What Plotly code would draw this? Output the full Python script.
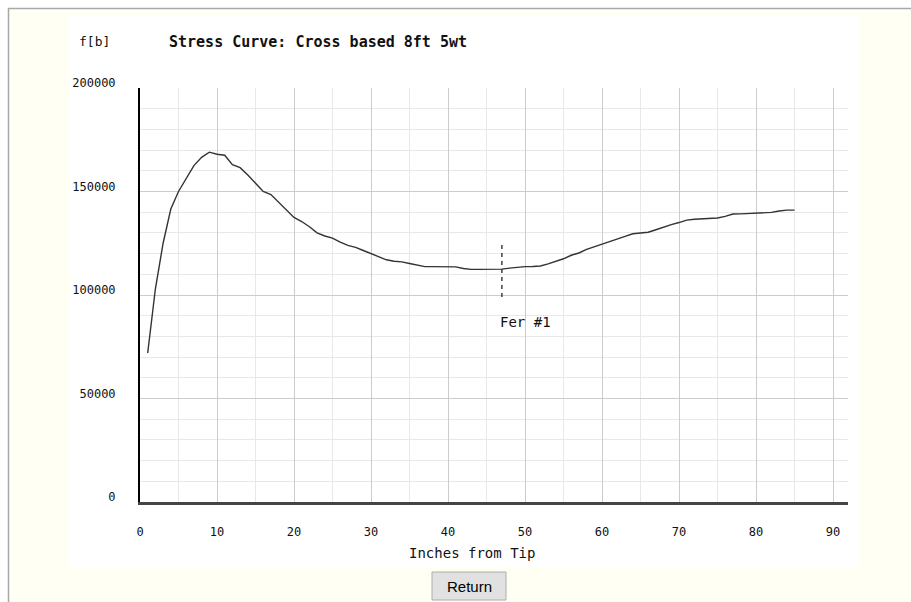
import plotly.graph_objects as go

# ---- data ----
inches = list(range(1, 86))
stress = [72000, 103000, 125000, 141500, 150000, 156000, 162500, 166500, 169000, 168000,
          167500, 163000, 161500, 158000, 154000, 150000, 148500, 145000, 141000, 137500,
          135500, 133000, 130000, 128500, 127500, 125500, 124000, 123000, 121500, 120000,
          118500, 117000, 116300, 116000, 115200, 114300, 113700, 113700, 113700, 113700,
          113600, 112800, 112400, 112400, 112400, 112400, 112500, 113000, 113500, 113700,
          113800, 114000, 115000, 116200, 117500, 119200, 120300, 122000, 123200, 124500,
          125700, 127000, 128300, 129600, 130100, 130300, 131500, 132800, 134000, 135000,
          136200, 136600, 136800, 137000, 137200, 138000, 139100, 139200, 139300, 139400,
          139500, 139900, 140600, 141000, 141000]
ferrule_x = [47, 47]
ferrule_y = [99000, 126000]
ferrule_label = "Fer #1"
ferrule_label_y = 87000
x_ticks = [0, 10, 20, 30, 40, 50, 60, 70, 80, 90]
y_ticks = [0, 50000, 100000, 150000, 200000]
title_text = "Stress Curve: Cross based 8ft 5wt"
y_unit = "f[b]"
x_title = "Inches from Tip"

W, H = 911, 602
L, R, T, B = 140, 63, 88, 100
PW = W - L - R
PH = H - T - B

def fx(px):
    return (px - L) / PW

def fy(py):
    return (H - B - py) / PH

MONO = "DejaVu Sans Mono"

fig = go.Figure()
fig.add_trace(go.Scatter(x=inches, y=stress, mode="lines",
                         line=dict(color="#333333", width=1.4),
                         hoverinfo="skip", showlegend=False))
fig.add_trace(go.Scatter(x=ferrule_x, y=ferrule_y, mode="lines",
                         line=dict(color="#222222", width=1.3, dash="4px,4px"),
                         hoverinfo="skip", showlegend=False))

shapes = [
    # white panel
    dict(type="rect", xref="paper", yref="paper", x0=fx(70), x1=fx(858), y0=fy(568), y1=fy(15),
         fillcolor="white", line=dict(width=0), layer="below"),
    # page border
    dict(type="line", xref="paper", yref="paper", x0=fx(8), x1=fx(911), y0=fy(8.5), y1=fy(8.5),
         line=dict(color="#a8a8a8", width=1.5)),
    dict(type="line", xref="paper", yref="paper", x0=fx(8.5), x1=fx(8.5), y0=fy(8), y1=fy(602),
         line=dict(color="#a8a8a8", width=1.5)),
    # outside-border white
    dict(type="rect", xref="paper", yref="paper", x0=fx(0), x1=fx(911), y0=fy(8), y1=fy(0),
         fillcolor="white", line=dict(width=0), layer="below"),
    dict(type="rect", xref="paper", yref="paper", x0=fx(0), x1=fx(8), y0=fy(602), y1=fy(0),
         fillcolor="white", line=dict(width=0), layer="below"),
    # Return button
    dict(type="rect", xref="paper", yref="paper", x0=fx(432), x1=fx(506), y0=fy(600), y1=fy(572),
         fillcolor="#e1e1e1", line=dict(color="#adadad", width=1)),
]

annotations = [
    dict(text=y_unit, xref="paper", yref="paper", x=fx(77), y=fy(42), xanchor="left", yanchor="middle",
         showarrow=False, font=dict(family=MONO, size=13, color="#111")),
    dict(text="<b>" + title_text + "</b>", xref="paper", yref="paper", x=fx(167), y=fy(42),
         xanchor="left", yanchor="middle", showarrow=False, font=dict(family=MONO, size=15, color="#111")),
    dict(text=x_title, xref="paper", yref="paper", x=fx(472), y=fy(553), xanchor="center", yanchor="middle",
         showarrow=False, font=dict(family=MONO, size=14, color="#111")),
    dict(text=ferrule_label, x=ferrule_x[0], y=ferrule_label_y, xref="x", yref="y", xanchor="left",
         yanchor="middle", xshift=-4, showarrow=False, font=dict(family=MONO, size=14, color="#111")),
    dict(text="Return", xref="paper", yref="paper", x=fx(469), y=fy(586), xanchor="center", yanchor="middle",
         showarrow=False, font=dict(family="Liberation Sans", size=15, color="#000")),
]

fig.update_layout(
    width=W, height=H,
    margin=dict(l=L, r=R, t=T, b=B, pad=0),
    paper_bgcolor="#fffff3",
    plot_bgcolor="white",
    shapes=shapes,
    annotations=annotations,
    showlegend=False,
    xaxis=dict(range=[0, PW / 7.7], tickvals=x_ticks, ticktext=[str(v) for v in x_ticks],
               showgrid=True, gridcolor="#cccccc", gridwidth=1,
               minor=dict(dtick=5, showgrid=True, gridcolor="#e8e8e8", gridwidth=1),
               showline=True, linecolor="#444444", linewidth=3,
               zeroline=False, ticks="", ticklabelstandoff=17,
               tickfont=dict(family=MONO, size=12, color="#111"), fixedrange=True),
    yaxis=dict(range=[0, 200000], tickvals=y_ticks, ticktext=[str(v) for v in y_ticks],
               showgrid=True, gridcolor="#cccccc", gridwidth=1,
               minor=dict(dtick=10000, showgrid=True, gridcolor="#e8e8e8", gridwidth=1),
               showline=True, linecolor="#000000", linewidth=2,
               zeroline=False, ticks="", ticklabelstandoff=20, ticklabelshift=-5,
               tickfont=dict(family=MONO, size=12, color="#111"), fixedrange=True),
)

fig.write_html("out.html")
